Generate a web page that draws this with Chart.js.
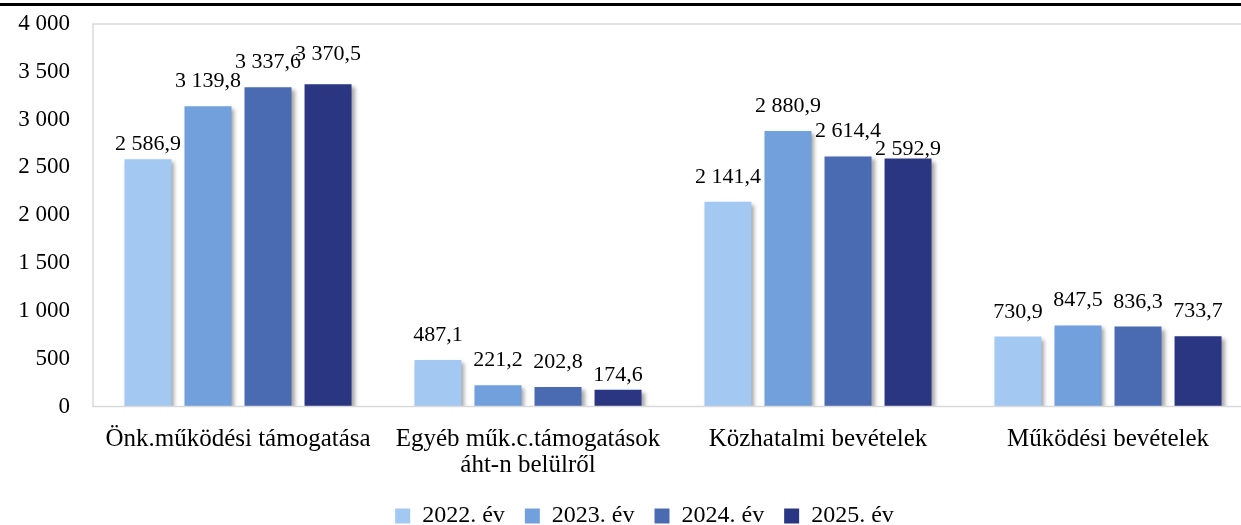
<!DOCTYPE html>
<html>
<head>
<meta charset="utf-8">
<script src="https://cdn.jsdelivr.net/npm/chart.js@4.4.1/dist/chart.umd.min.js"></script>
<style>
    html, body { margin: 0; padding: 0; background: #fff; overflow: hidden; }
    #wrap { position: relative; width: 1290px; height: 525px; }
    #topRule { position: absolute; left: 0; top: 3px; width: 1241px; height: 3px; background: #000; }
</style>
</head>
<body>
<div id="wrap">
    <div id="topRule"></div>
    <canvas id="budgetChart" width="1290" height="525"></canvas>
</div>
<script>
// Chart data
const categories = [
    "Önk.működési támogatása",
    ["Egyéb műk.c.támogatások", "áht-n belülről"],
    "Közhatalmi bevételek",
    "Működési bevételek",
];
const seriesLabels = ["2022. év", "2023. év", "2024. év", "2025. év"];
const values2022 = [2586.9, 487.1, 2141.4, 730.9];
const values2023 = [3139.8, 221.2, 2880.9, 847.5];
const values2024 = [3337.6, 202.8, 2614.4, 836.3];
const values2025 = [3370.5, 174.6, 2592.9, 733.7];
const yTicks = [0, 500, 1000, 1500, 2000, 2500, 3000, 3500, 4000];

const colors = ["#a3c8f2", "#72a0dc", "#4a6bb1", "#2b3683"];
const fontFamily = "'Liberation Serif', 'DejaVu Serif', serif";

function huNumber(v, decimals) {
    const parts = v.toFixed(decimals).split(".");
    parts[0] = parts[0].replace(/\B(?=(\d{3})+(?!\d))/g, " ");
    return parts.join(",");
}

// labels that sit closer to / further from their bar (dataset-index: px down)
const labelNudge = { "0-0": 10, "3-1": 10, "3-2": 15, "3-0": -5 };

// bar shadow + frame + value labels
const decorPlugin = {
    id: "decor",
    afterLayout(chart) {
        // legend is centred on the page, not on the plot area
        chart.legend.left += 18;
        chart.legend.right += 18;
    },
    beforeDatasetsDraw(chart) {
        const ctx = chart.ctx;
        ctx.save();
        ctx.shadowColor = "rgba(0,0,0,0.35)";
        ctx.shadowBlur = 4;
        ctx.shadowOffsetX = 3;
        ctx.shadowOffsetY = 3;
    },
    afterDatasetsDraw(chart) {
        const ctx = chart.ctx;
        ctx.restore();
        const area = chart.chartArea;
        ctx.save();
        ctx.strokeStyle = "#d9d9d9";
        ctx.lineWidth = 1.5;
        ctx.strokeRect(area.left, area.top, area.right - area.left, area.bottom - area.top);
        ctx.fillStyle = "#000";
        ctx.font = "22px " + fontFamily;
        ctx.textAlign = "center";
        ctx.textBaseline = "alphabetic";
        chart.data.datasets.forEach((ds, i) => {
            chart.getDatasetMeta(i).data.forEach((bar, j) => {
                const nudge = labelNudge[i + "-" + j] || 0;
                ctx.fillText(huNumber(ds.data[j], 1), bar.x, bar.y - 19 + nudge);
            });
        });
        ctx.restore();
    },
};

const allSeries = [values2022, values2023, values2024, values2025];

new Chart(document.getElementById("budgetChart").getContext("2d"), {
    type: "bar",
    data: {
        labels: categories,
        datasets: allSeries.map((vals, i) => ({
            label: seriesLabels[i],
            data: vals,
            backgroundColor: colors[i],
            borderWidth: 0,
            barPercentage: 0.783,
            categoryPercentage: 0.828,
        })),
    },
    options: {
        responsive: false,
        animation: false,
        layout: {
            padding: { top: 0, right: 37, left: 0, bottom: -13 },
        },
        plugins: {
            legend: {
                position: "bottom",
                labels: {
                    font: { family: fontFamily, size: 24 },
                    color: "#000",
                    boxWidth: 15,
                    boxHeight: 15,
                    padding: 20,
                },
            },
            tooltip: { enabled: false },
        },
        scales: {
            x: {
                grid: { display: false, drawTicks: false },
                border: { display: false },
                afterFit(axis) {
                    axis.height -= 15;
                },
                ticks: {
                    font: { family: fontFamily, size: 25, lineHeight: 1.05 },
                    color: "#000",
                    padding: 20,
                    maxRotation: 0,
                    autoSkip: false,
                },
            },
            y: {
                min: 0,
                max: 4000,
                grid: { display: false, drawTicks: false },
                border: { display: false },
                afterBuildTicks(axis) {
                    axis.ticks = yTicks.map((v) => ({ value: v }));
                },
                afterFit(axis) {
                    axis.width = 93;
                    axis.paddingTop = 24;
                },
                ticks: {
                    font: { family: fontFamily, size: 23 },
                    color: "#000",
                    padding: 23,
                    callback: (v) => huNumber(v, 0),
                },
            },
        },
    },
    plugins: [decorPlugin],
});
</script>
</body>
</html>
